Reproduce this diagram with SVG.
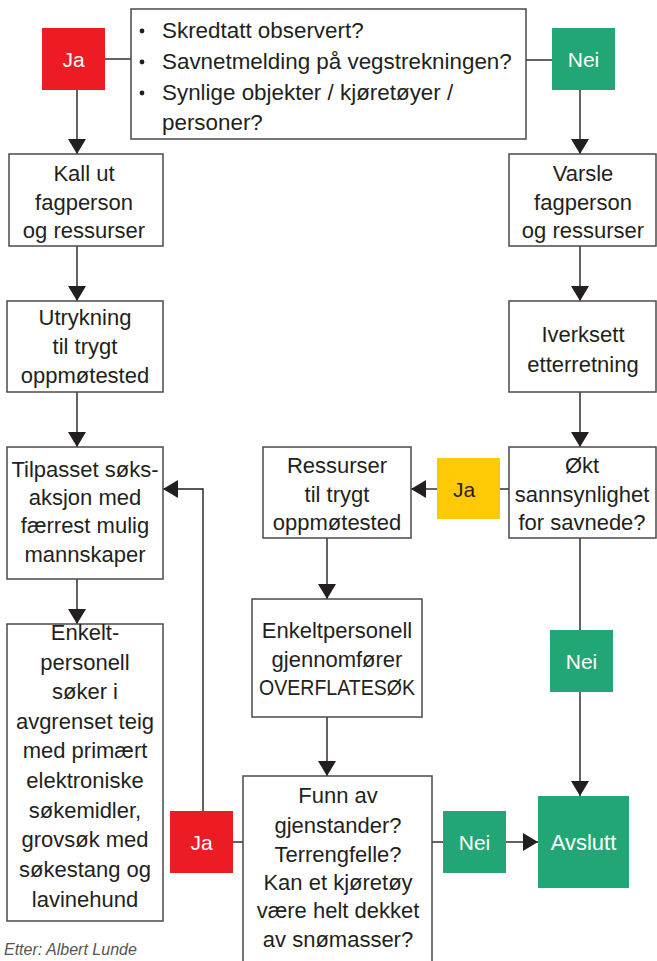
<svg xmlns="http://www.w3.org/2000/svg" width="657" height="961" viewBox="0 0 657 961">
<style>
.box{fill:#fff;stroke:#4a4a4a;stroke-width:1.5}
.red{fill:#ed1c24}
.green{fill:#22a676}
.yellow{fill:#ffca05}
.t{font-family:"Liberation Sans",Arial,sans-serif;font-size:22px;fill:#231f20;text-anchor:middle}
.tl{font-family:"Liberation Sans",Arial,sans-serif;font-size:22.4px;fill:#231f20}
.w{font-family:"Liberation Sans",Arial,sans-serif;font-size:21px;fill:#fff;text-anchor:middle}
.c{fill:none;stroke:#231f20;stroke-width:1.4}
.note{font-family:"Liberation Sans",Arial,sans-serif;font-size:16px;font-style:italic;fill:#555}
</style>
<defs>
<marker id="ah" viewBox="0 0 15 18" refX="15" refY="9" markerWidth="15" markerHeight="18" markerUnits="userSpaceOnUse" orient="auto">
<path d="M0,0 L15,9 L0,18 Z" fill="#231f20"/>
</marker>
</defs>

<g id="connectors">
<line class="c" x1="105" y1="59" x2="131" y2="59"/>
<line class="c" x1="77" y1="90" x2="77" y2="154" marker-end="url(#ah)"/>
<line class="c" x1="526" y1="60" x2="552" y2="60"/>
<line class="c" x1="580" y1="90" x2="580" y2="154" marker-end="url(#ah)"/>
<line class="c" x1="77" y1="246" x2="77" y2="301" marker-end="url(#ah)"/>
<line class="c" x1="77" y1="392" x2="77" y2="447" marker-end="url(#ah)"/>
<line class="c" x1="77" y1="579" x2="77" y2="624" marker-end="url(#ah)"/>
<line class="c" x1="580" y1="246" x2="580" y2="301" marker-end="url(#ah)"/>
<line class="c" x1="580" y1="392" x2="580" y2="447" marker-end="url(#ah)"/>
<line class="c" x1="500" y1="489" x2="509" y2="489"/>
<line class="c" x1="437" y1="489" x2="411" y2="489" marker-end="url(#ah)"/>
<line class="c" x1="580" y1="538" x2="580" y2="630"/>
<line class="c" x1="580" y1="692" x2="580" y2="796" marker-end="url(#ah)"/>
<line class="c" x1="327" y1="538" x2="327" y2="599" marker-end="url(#ah)"/>
<line class="c" x1="327" y1="717" x2="327" y2="776" marker-end="url(#ah)"/>
<line class="c" x1="233" y1="842" x2="243" y2="842"/>
<polyline class="c" points="203,811 203,489 163,489" marker-end="url(#ah)"/>
<line class="c" x1="432" y1="842" x2="443" y2="842"/>
<line class="c" x1="506" y1="842" x2="538" y2="842" marker-end="url(#ah)"/>
</g>

<g id="question">
<rect class="box" x="131" y="9" width="395" height="130"/>
<circle cx="142" cy="31" r="2.4" fill="#231f20"/>
<circle cx="142" cy="62" r="2.4" fill="#231f20"/>
<circle cx="142" cy="93" r="2.4" fill="#231f20"/>
<text class="tl" x="162" y="38">Skredtatt observert?</text>
<text class="tl" x="162" y="69">Savnetmelding på vegstrekningen?</text>
<text class="tl" x="162" y="100">Synlige objekter / kjøretøyer /</text>
<text class="tl" x="162" y="130">personer?</text>
</g>

<g id="ja1">
<rect class="red" x="42" y="28" width="63" height="62"/>
<text class="w" x="73.5" y="67">Ja</text>
</g>

<g id="nei1">
<rect class="green" x="552" y="28" width="63" height="62"/>
<text class="w" x="583.5" y="67">Nei</text>
</g>

<g id="kallut">
<rect class="box" x="9" y="154" width="154" height="92"/>
<text class="t" x="84" y="181">Kall ut</text>
<text class="t" x="84" y="210">fagperson</text>
<text class="t" x="84" y="238">og ressurser</text>
</g>

<g id="varsle">
<rect class="box" x="509" y="154" width="147" height="92"/>
<text class="t" x="583" y="181">Varsle</text>
<text class="t" x="583" y="210">fagperson</text>
<text class="t" x="583" y="238">og ressurser</text>
</g>

<g id="utrykning">
<rect class="box" x="7" y="301" width="156" height="91"/>
<text class="t" x="85" y="325">Utrykning</text>
<text class="t" x="85" y="354">til trygt</text>
<text class="t" x="85" y="383">oppmøtested</text>
</g>

<g id="iverksett">
<rect class="box" x="509" y="301" width="147" height="91"/>
<text class="t" x="583" y="342">Iverksett</text>
<text class="t" x="583" y="372">etterretning</text>
</g>

<g id="tilpasset">
<rect class="box" x="7" y="447" width="156" height="132"/>
<text class="t" x="85" y="477">Tilpasset søks-</text>
<text class="t" x="85" y="505">aksjon med</text>
<text class="t" x="85" y="533">færrest mulig</text>
<text class="t" x="85" y="562">mannskaper</text>
</g>

<g id="ressurser">
<rect class="box" x="263" y="447" width="148" height="91"/>
<text class="t" x="337" y="473">Ressurser</text>
<text class="t" x="337" y="502">til trygt</text>
<text class="t" x="337" y="530">oppmøtested</text>
</g>

<g id="ja2">
<rect class="yellow" x="437" y="458" width="63" height="61"/>
<text class="w" x="464" y="497" style="fill:#231f20">Ja</text>
</g>

<g id="okt">
<rect class="box" x="509" y="447" width="147" height="91"/>
<text class="t" x="582" y="473">Økt</text>
<text class="t" x="582" y="502">sannsynlighet</text>
<text class="t" x="582" y="530">for savnede?</text>
</g>

<g id="enkelt">
<rect class="box" x="7" y="624" width="156" height="297"/>
<text class="t" x="85" y="640">Enkelt-</text>
<text class="t" x="85" y="670">personell</text>
<text class="t" x="85" y="699">søker i</text>
<text class="t" x="85" y="729">avgrenset teig</text>
<text class="t" x="85" y="758">med primært</text>
<text class="t" x="85" y="788">elektroniske</text>
<text class="t" x="85" y="818">søkemidler,</text>
<text class="t" x="85" y="847">grovsøk med</text>
<text class="t" x="85" y="877">søkestang og</text>
<text class="t" x="85" y="907">lavinehund</text>
</g>

<g id="overflatesok">
<rect class="box" x="252" y="599" width="170" height="118"/>
<text class="t" x="337" y="638">Enkeltpersonell</text>
<text class="t" x="337" y="667">gjennomfører</text>
<text class="t" x="337" y="695" textLength="156" lengthAdjust="spacingAndGlyphs">OVERFLATESØK</text>
</g>

<g id="nei2">
<rect class="green" x="550" y="630" width="63" height="62"/>
<text class="w" x="581.5" y="669">Nei</text>
</g>

<g id="funn">
<rect class="box" x="243" y="776" width="189" height="192"/>
<text class="t" x="338" y="803">Funn av</text>
<text class="t" x="338" y="833">gjenstander?</text>
<text class="t" x="338" y="862">Terrengfelle?</text>
<text class="t" x="338" y="890">Kan et kjøretøy</text>
<text class="t" x="338" y="918">være helt dekket</text>
<text class="t" x="338" y="947">av snømasser?</text>
</g>

<g id="ja3">
<rect class="red" x="170" y="811" width="63" height="62"/>
<text class="w" x="201.5" y="850">Ja</text>
</g>

<g id="nei3">
<rect class="green" x="443" y="811" width="63" height="62"/>
<text class="w" x="474.5" y="850">Nei</text>
</g>

<g id="avslutt">
<rect class="green" x="538" y="796" width="91" height="92"/>
<text class="w" x="583.5" y="850" style="font-size:22px">Avslutt</text>
</g>

<text class="note" x="4" y="955">Etter: Albert Lunde</text>
</svg>
